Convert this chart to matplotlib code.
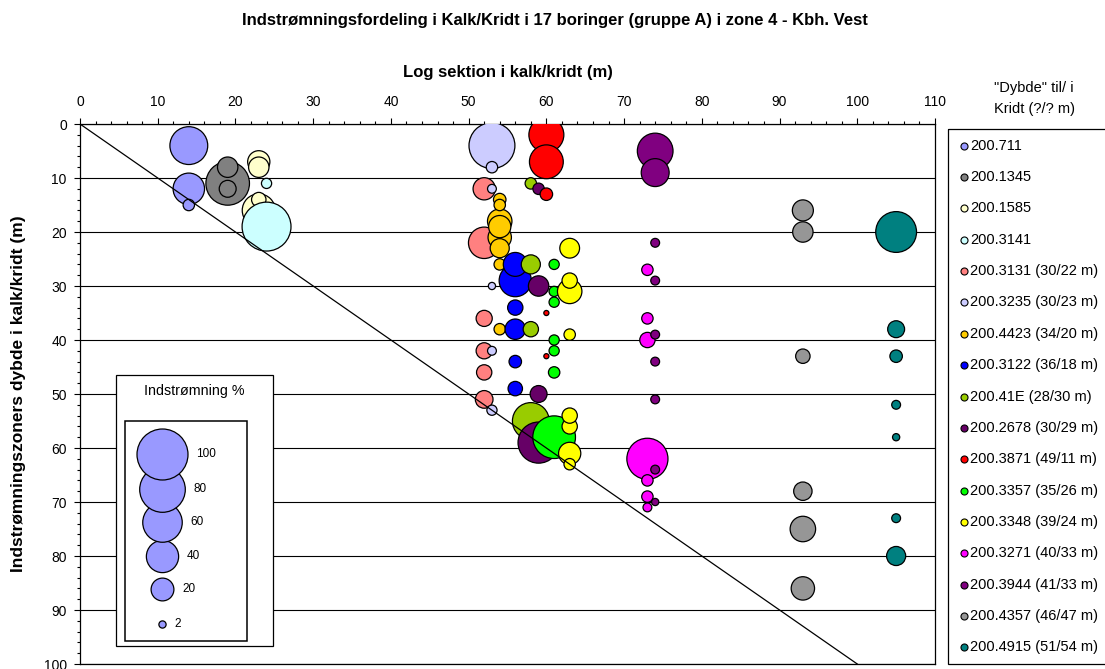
import numpy as np
import matplotlib
matplotlib.use("Agg")
import matplotlib.pyplot as plt
from matplotlib.patches import Rectangle
from matplotlib.ticker import MultipleLocator

plt.rcParams["font.family"] = ["Liberation Sans", "DejaVu Sans"]

W, H, DPI = 1105, 669, 100

# boreholes, log position (m into chalk) and their inflow zones (depth, inflow %)
labels = ["200.711", "200.1345", "200.1585", "200.3141", "200.3131 (30/22 m)",
          "200.3235 (30/23 m)", "200.4423 (34/20 m)", "200.3122 (36/18 m)",
          "200.41E (28/30 m)", "200.2678 (30/29 m)", "200.3871 (49/11 m)",
          "200.3357 (35/26 m)", "200.3348 (39/24 m)", "200.3271 (40/33 m)",
          "200.3944 (41/33 m)", "200.4357 (46/47 m)", "200.4915 (51/54 m)"]
colors = ["#9999FF", "#808080", "#FFFFCC", "#CCFFFF", "#FF8080", "#CCCCFF",
          "#FFCC00", "#0000FF", "#99CC00", "#660066", "#FF0000", "#00FF00",
          "#FFFF00", "#FF00FF", "#800080", "#969696", "#008080"]
log_pos = [14, 19, 23, 24, 52, 53, 54, 56, 58, 59, 60, 61, 63, 73, 74, 93, 105]

d_711 = [4, 12, 15]
q_711 = [55, 38, 5]
d_1345 = [8, 11, 12]
q_1345 = [16, 73, 11]
d_1585 = [7, 8, 14, 16]
q_1585 = [19, 16, 8, 42]
d_3141 = [11, 19]
q_3141 = [4, 92]
d_3131 = [12, 22, 36, 42, 46, 51]
q_3131 = [19, 38, 10, 10, 9, 12]
d_3235 = [4, 8, 12, 30, 42, 53]
q_3235 = [81, 5, 3, 2, 3, 4]
d_4423 = [14, 15, 18, 19, 21, 23, 26, 38]
q_4423 = [6, 5, 23, 19, 21, 14, 5, 5]
d_3122 = [26, 29, 34, 38, 44, 49]
q_3122 = [22, 40, 9, 16, 6, 8]
d_41E = [11, 26, 38, 55]
q_41E = [5, 14, 9, 52]
d_2678 = [12, 30, 50, 59]
q_2678 = [5, 16, 11, 65]
d_3871 = [2, 7, 13, 35, 43]
q_3871 = [47, 44, 6, 1, 1]
d_3357 = [26, 31, 33, 40, 42, 46, 58]
q_3357 = [4, 4, 4, 4, 4, 5, 70]
d_3348 = [23, 29, 31, 39, 54, 56, 61, 63]
q_3348 = [15, 9, 23, 5, 9, 9, 19, 5]
d_3271 = [27, 36, 40, 62, 66, 69, 71]
q_3271 = [5, 5, 9, 65, 5, 5, 3]
d_3944 = [5, 9, 22, 29, 39, 44, 51, 64, 70]
q_3944 = [49, 30, 3, 3, 3, 3, 3, 3, 2]
d_4357 = [16, 20, 43, 68, 75, 86]
q_4357 = [17, 16, 8, 13, 25, 21]
d_4915 = [20, 38, 43, 52, 58, 73, 80]
q_4915 = [64, 11, 6, 3, 2, 3, 14]

depths = [d_711, d_1345, d_1585, d_3141, d_3131, d_3235, d_4423, d_3122,
          d_41E, d_2678, d_3871, d_3357, d_3348, d_3271, d_3944, d_4357, d_4915]
inflow = [q_711, q_1345, q_1585, q_3141, q_3131, q_3235, q_4423, q_3122,
          q_41E, q_2678, q_3871, q_3357, q_3348, q_3271, q_3944, q_4357, q_4915]

# size legend
ref_values = [100, 80, 60, 40, 20, 2]


def bubble_area(v):
    # area proportional to inflow, 100 % -> 51 px diameter
    d_px = 51 * np.sqrt(np.asarray(v, dtype=float) / 100.0)
    return (d_px * 72.0 / DPI) ** 2


fig = plt.figure(figsize=(W / DPI, H / DPI), dpi=DPI)
ax = fig.add_axes([80 / W, 1 - 664 / H, 855 / W, 540 / H])

for i, lab in enumerate(labels):
    y = np.asarray(depths[i], dtype=float)
    v = np.asarray(inflow[i], dtype=float)
    order = np.argsort(-v)
    ax.scatter(np.full(len(y), log_pos[i]), y[order], s=bubble_area(v[order]),
               c=colors[i], edgecolors="black", linewidths=0.9,
               zorder=3 + i * 0.01)

ax.plot([0, 100], [0, 100], color="black", lw=0.9, zorder=4)

ax.set_xlim(0, 110)
ax.set_ylim(100, 0)
ax.xaxis.tick_top()
ax.xaxis.set_major_locator(MultipleLocator(10))
ax.xaxis.set_minor_locator(MultipleLocator(2))
ax.yaxis.set_major_locator(MultipleLocator(10))
ax.yaxis.set_minor_locator(MultipleLocator(2))
ax.tick_params(which="major", direction="out", length=4.5, width=0.8,
               labelsize=10, top=True, bottom=False)
ax.tick_params(which="minor", direction="out", length=2.5, width=0.8,
               top=True, bottom=False)
ax.tick_params(axis="x", which="major", pad=6)
ax.tick_params(axis="y", which="major", pad=5)
ax.grid(axis="y", which="major", color="black", lw=0.8, zorder=1)
ax.set_axisbelow(True)
for sp in ax.spines.values():
    sp.set_linewidth(0.9)

ax.set_xlabel("Log sektion i kalk/kridt (m)", fontsize=12, fontweight="bold")
ax.xaxis.set_label_position("top")
ax.xaxis.set_label_coords(0.5, (664 - 73) / 540)
ax.xaxis.label.set_va("center")
ax.set_ylabel("Indstrømningszoners dybde i kalk/kridt (m)", fontsize=12.5,
              fontweight="bold")
ax.yaxis.set_label_coords((18 - 80) / 855, 0.5)
ax.yaxis.label.set_va("center")

fig.text(555 / W, 1 - 20 / H,
         "Indstrømningsfordeling i Kalk/Kridt i 17 boringer (gruppe A) i zone 4 - Kbh. Vest",
         ha="center", va="center", fontsize=12, fontweight="bold")

# overlay in pixel coordinates for the two legend boxes
ov = fig.add_axes([0, 0, 1, 1], facecolor="none")
ov.set_xlim(0, W)
ov.set_ylim(H, 0)
ov.axis("off")

# series legend
ov.text(1034, 98.5, '"Dybde" til/ i\nKridt (?/? m)', ha="center", va="center",
        fontsize=10.5, linespacing=1.6)
ov.add_patch(Rectangle((948, 129), 170, 535, fill=False, ec="black", lw=0.9,
                       clip_on=False))
row_y = 145.7 + 31.35 * np.arange(len(labels))
for i, lab in enumerate(labels):
    ov.scatter([964], [row_y[i]], s=bubble_area(1.9), c=colors[i],
               edgecolors="black", linewidths=0.8, zorder=5)
    ov.text(970, row_y[i], lab, ha="left", va="center", fontsize=10.5)

# bubble size legend
ov.add_patch(Rectangle((115.7, 375), 157, 270.7, fc="white", ec="black", lw=0.9,
                       zorder=2))
ov.add_patch(Rectangle((125.3, 420.7), 122, 220.3, fc="white", ec="black", lw=1.1,
                       zorder=2.1))
ov.text(194.2, 391.5, "Indstrømning %", ha="center", va="center", fontsize=10.3)
ref_y = [454.3, 489, 521.7, 556, 589, 624]
for v, yy in sorted(zip(ref_values, ref_y)):
    ov.scatter([161.7], [yy], s=bubble_area(v), c=colors[0], edgecolors="black",
               linewidths=0.9, zorder=3 + v / 1000)
    r = 51 * np.sqrt(v / 100) / 2
    ov.text(161.7 + r + 9, yy, str(v), ha="left", va="center", fontsize=8.5,
            zorder=4)

fig.savefig("out.png", dpi=DPI)
